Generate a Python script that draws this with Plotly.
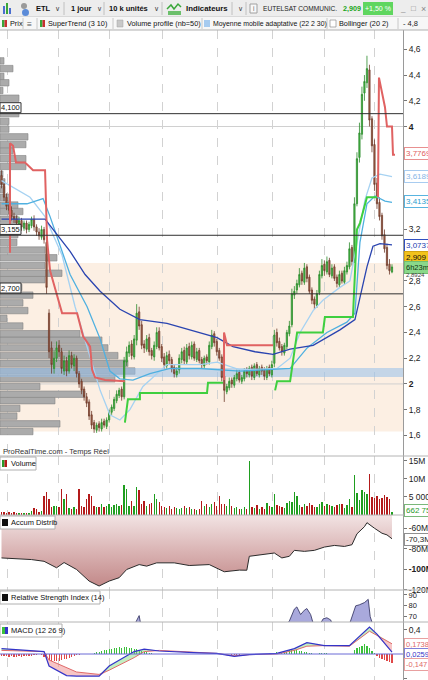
import plotly.graph_objects as go
import numpy as np

# ---------------- DATA ----------------
OPEN = [
3.62, 3.55, 3.45, 3.40, 3.35, 3.30, 3.28, 3.24, 3.27, 3.21,
3.25, 3.20, 3.23, 3.28, 3.22, 3.18, 3.14, 3.20, 3.10, 2.55,
2.28, 2.12, 2.20, 2.30, 2.25, 2.10, 2.18, 2.10, 2.22, 2.14,
2.20, 2.08, 2.02, 1.96, 1.90, 1.86, 1.76, 1.70, 1.64, 1.69,
1.65, 1.71, 1.67, 1.72, 1.78, 1.81, 1.87, 1.91, 1.96, 1.90,
2.17, 2.24, 2.31, 2.21, 2.34, 2.56, 2.46, 2.31, 2.27, 2.36,
2.26, 2.21, 2.29, 2.41, 2.29, 2.21, 2.14, 2.23, 2.19, 2.13,
2.07, 2.11, 2.19, 2.26, 2.17, 2.29, 2.21, 2.31, 2.19, 2.26,
2.19, 2.14, 2.21, 2.17, 2.29, 2.39, 2.33, 2.26, 2.21, 2.06,
1.94, 1.97, 2.03, 1.99, 2.04, 2.09, 2.02, 2.04, 2.11, 2.07,
2.13, 2.05, 2.15, 2.07, 2.13, 2.11, 2.05, 2.13, 2.07, 2.16,
2.40, 2.33, 2.29, 2.24, 2.29, 2.39, 2.46, 2.69, 2.73, 2.77,
2.86, 2.79, 2.91, 2.83, 2.73, 2.66, 2.61, 2.71, 2.84, 2.93,
2.87, 2.96, 2.84, 2.91, 2.83, 2.77, 2.86, 2.79, 2.87, 2.91,
3.06, 2.96, 3.40, 3.76, 3.94, 4.26, 4.34, 4.44, 4.06, 3.86,
3.56, 3.41, 3.31, 3.16, 3.06, 2.93, 2.87]
HIGH = [
3.66, 3.58, 3.48, 3.42, 3.38, 3.33, 3.31, 3.30, 3.29, 3.27,
3.27, 3.26, 3.30, 3.31, 3.24, 3.21, 3.23, 3.22, 3.12, 2.58,
2.33, 2.26, 2.33, 2.34, 2.28, 2.22, 2.21, 2.26, 2.25, 2.23,
2.22, 2.10, 2.04, 1.98, 1.93, 1.88, 1.79, 1.72, 1.70, 1.71,
1.73, 1.73, 1.74, 1.80, 1.84, 1.90, 1.95, 1.97, 1.98, 2.21,
2.29, 2.33, 2.34, 2.38, 2.62, 2.60, 2.49, 2.34, 2.38, 2.39,
2.28, 2.33, 2.44, 2.44, 2.31, 2.24, 2.25, 2.26, 2.21, 2.15,
2.13, 2.23, 2.28, 2.29, 2.31, 2.32, 2.33, 2.33, 2.28, 2.28,
2.21, 2.22, 2.23, 2.33, 2.42, 2.41, 2.35, 2.28, 2.23, 2.08,
2.00, 2.05, 2.05, 2.07, 2.11, 2.11, 2.07, 2.12, 2.13, 2.14,
2.15, 2.16, 2.17, 2.14, 2.15, 2.13, 2.14, 2.15, 2.18, 2.42,
2.43, 2.36, 2.31, 2.32, 2.42, 2.49, 2.74, 2.76, 2.81, 2.90,
2.88, 2.94, 2.93, 2.85, 2.75, 2.68, 2.73, 2.88, 2.97, 2.96,
2.99, 2.98, 2.93, 2.93, 2.85, 2.88, 2.88, 2.91, 2.95, 3.10,
3.08, 3.45, 3.80, 4.03, 4.31, 4.40, 4.55, 4.48, 4.08, 3.90,
3.60, 3.45, 3.33, 3.20, 3.09, 2.97, 2.93]
LOW = [
3.52, 3.42, 3.35, 3.32, 3.27, 3.25, 3.22, 3.22, 3.19, 3.19,
3.17, 3.18, 3.21, 3.19, 3.15, 3.12, 3.12, 3.09, 2.70, 2.20,
2.08, 2.08, 2.17, 2.21, 2.08, 2.07, 2.06, 2.08, 2.12, 2.10,
2.05, 1.97, 1.92, 1.87, 1.82, 1.72, 1.65, 1.62, 1.62, 1.63,
1.63, 1.66, 1.65, 1.70, 1.76, 1.79, 1.85, 1.89, 1.87, 1.88,
2.14, 2.21, 2.19, 2.19, 2.30, 2.42, 2.27, 2.24, 2.25, 2.22,
2.19, 2.18, 2.27, 2.26, 2.17, 2.12, 2.12, 2.15, 2.09, 2.05,
2.05, 2.08, 2.16, 2.15, 2.15, 2.19, 2.19, 2.18, 2.17, 2.16,
2.12, 2.12, 2.15, 2.15, 2.27, 2.29, 2.22, 2.18, 2.02, 1.86,
1.92, 1.95, 1.97, 1.97, 2.02, 2.01, 2.00, 2.02, 2.05, 2.05,
2.03, 2.03, 2.06, 2.05, 2.07, 2.03, 2.03, 2.06, 2.05, 2.13,
2.29, 2.26, 2.22, 2.22, 2.27, 2.37, 2.44, 2.66, 2.70, 2.75,
2.77, 2.77, 2.79, 2.70, 2.62, 2.58, 2.59, 2.69, 2.82, 2.84,
2.85, 2.83, 2.82, 2.80, 2.75, 2.75, 2.78, 2.77, 2.85, 2.89,
2.92, 2.94, 3.38, 3.72, 3.90, 4.20, 4.30, 4.00, 3.80, 3.50,
3.36, 3.27, 3.12, 3.02, 2.89, 2.85, 2.86]
CLOSE = [
3.55, 3.45, 3.38, 3.35, 3.30, 3.28, 3.25, 3.27, 3.22, 3.25,
3.20, 3.24, 3.28, 3.22, 3.18, 3.15, 3.20, 3.12, 2.75, 2.25,
2.15, 2.20, 2.28, 2.25, 2.12, 2.18, 2.10, 2.22, 2.15, 2.20,
2.08, 2.00, 1.95, 1.90, 1.85, 1.75, 1.68, 1.65, 1.68, 1.66,
1.70, 1.68, 1.72, 1.78, 1.82, 1.88, 1.92, 1.95, 1.90, 2.18,
2.25, 2.30, 2.22, 2.35, 2.55, 2.45, 2.30, 2.28, 2.35, 2.25,
2.22, 2.30, 2.40, 2.28, 2.20, 2.15, 2.22, 2.18, 2.12, 2.08,
2.10, 2.20, 2.25, 2.18, 2.28, 2.22, 2.30, 2.20, 2.25, 2.18,
2.15, 2.20, 2.18, 2.30, 2.38, 2.32, 2.25, 2.20, 2.05, 1.95,
1.98, 2.02, 2.00, 2.05, 2.08, 2.03, 2.05, 2.10, 2.08, 2.12,
2.06, 2.14, 2.08, 2.12, 2.10, 2.06, 2.12, 2.08, 2.15, 2.38,
2.32, 2.28, 2.25, 2.30, 2.40, 2.45, 2.70, 2.72, 2.78, 2.85,
2.80, 2.90, 2.82, 2.72, 2.65, 2.62, 2.70, 2.85, 2.92, 2.88,
2.95, 2.85, 2.90, 2.82, 2.78, 2.85, 2.80, 2.88, 2.92, 3.05,
2.95, 3.40, 3.75, 3.95, 4.25, 4.35, 4.45, 4.05, 3.85, 3.55,
3.40, 3.30, 3.15, 3.05, 2.92, 2.88, 2.909]
VOLUME_M = [
0.6, 0.8, 0.5, 0.6, 0.5, 0.6, 0.5, 0.4, 0.5, 0.4,
0.3, 0.5, 1.0, 1.9, 1.6, 0.6, 0.9, 5.1, 6.3, 4.3,
2.0, 2.3, 2.3, 2.2, 7.1, 4.2, 5.8, 1.8, 1.5, 2.0,
1.6, 7.1, 2.3, 2.2, 4.2, 5.6, 5.1, 2.3, 2.0, 2.2,
2.8, 2.0, 2.5, 2.8, 2.2, 2.6, 3.0, 2.4, 2.6, 8.3,
7.1, 2.5, 3.7, 2.3, 7.6, 6.9, 3.0, 3.7, 2.5, 2.8,
3.2, 5.6, 4.2, 3.5, 2.4, 2.0, 1.8, 2.4, 1.6, 2.2,
1.9, 1.5, 1.7, 2.3, 1.8, 2.0, 1.4, 1.6, 1.3, 1.5,
3.7, 2.5, 2.8, 2.2, 3.0, 3.6, 2.4, 5.1, 3.0, 2.8,
2.5, 4.3, 2.4, 1.8, 2.2, 1.6, 1.5, 2.0, 1.4, 15.0,
2.0, 1.8, 2.6, 1.6, 2.0, 1.5, 3.2, 2.4, 2.0, 5.6,
2.6, 2.5, 2.0, 1.8, 3.3, 3.8, 3.5, 6.2, 5.1, 2.6,
2.2, 3.0, 2.5, 3.3, 2.6, 2.0, 2.2, 2.8, 3.5, 2.4,
2.8, 2.6, 2.3, 2.0, 2.6, 2.8, 3.0, 1.8, 2.6, 4.2,
2.2, 11.1, 6.0, 4.0, 6.9, 6.3, 5.6, 11.4, 5.0, 4.5,
5.2, 4.2, 4.6, 5.3, 4.8, 4.2, 0.66]

# volume profile (50 price levels)
VP_PRICE = [1.63, 1.69, 1.75, 1.81, 1.87, 1.92, 1.98, 2.04, 2.10, 2.16,
            2.22, 2.28, 2.34, 2.39, 2.45, 2.51, 2.57, 2.63, 2.69, 2.75,
            2.81, 2.86, 2.92, 2.98, 3.04, 3.10, 3.16, 3.22, 3.28, 3.34,
            3.39, 3.45, 3.51, 3.57, 3.63, 3.69, 3.75, 3.81, 3.86, 3.92,
            3.98, 4.04, 4.10, 4.16, 4.22, 4.28, 4.34, 4.39, 4.45, 4.51]
VP_VOL = [33, 60, 17, 20, 55, 85, 40, 115, 135, 128,
          118, 108, 102, 80, 23, 7, 28, 23, 33, 22,
          45, 62, 45, 57, 45, 17, 18, 21, 18, 23,
          18, 10, 5, 5, 3, 26, 26, 13, 26, 28,
          9, 9, 19, 19, 19, 3, 9, 4, 13, 4]

# SuperTrend (3 10)
ST_RED_X = [3.4, 3.4, 4.6, 5.8, 9.4, 11.4, 12.6, 17.4, 18.2, 19.4, 24.2, 30.2, 31.4, 32.6, 35.4, 36.2, 37.4, 41.4, 49.3,
            None, 88.9, 88.9, 90.1, 108.5, None, 150.4, 150.8, 153.2, 154.0, 156.0, 156.4, 157.2]
ST_RED_Y = [3.02, 3.87, 3.85, 3.72, 3.72, 3.68, 3.66, 3.66, 3.12, 2.88, 2.55, 2.55, 2.45, 2.37, 2.29, 2.11, 2.05, 2.03, 2.02,
            None, 2.03, 2.40, 2.30, 2.30, None, 3.45, 4.38, 4.15, 4.00, 4.00, 3.78, 3.78]
ST_GREEN_X = [49.3, 50.5, 55.3, 55.3, 82.1, 82.5, 88.5, None, 109.3, 110.1, 115.3, 118.1, 128.4, 129.2, 140.4, 142.0, 143.2, 146.0, 150.0]
ST_GREEN_Y = [1.70, 1.88, 1.88, 1.93, 1.93, 2.01, 2.01, None, 1.95, 2.02, 2.02, 2.40, 2.40, 2.52, 2.52, 3.20, 3.25, 3.45, 3.45]

# moving averages
DB_X = [0, 17.4, 22.6, 27.4, 33.4, 39.4, 47.3, 55.3, 66.1, 79.3, 86.1, 92.5, 101.3, 108.5, 115.3, 124.5, 135.2, 141.2, 143.2, 146.0, 148.4, 151.2, 156.0]
DB_Y = [3.28, 3.28, 3.15, 3.03, 2.85, 2.72, 2.58, 2.50, 2.47, 2.40, 2.36, 2.29, 2.25, 2.23, 2.27, 2.30, 2.42, 2.50, 2.68, 2.91, 3.07, 3.09, 3.08]
LB1_X = [0, 11.4, 17.4, 24.2, 29.4, 35.4, 39.4, 43.3, 47.3, 51.3, 56.5, 66.1, 79.3, 86.1, 95.3, 110.1, 115.3, 119.3, 124.5, 128.4, 135.2, 139.2, 142.0, 145.2, 148.0, 151.2, 156.0]
LB1_Y = [3.58, 3.45, 3.30, 3.00, 2.60, 2.20, 1.95, 1.76, 1.72, 1.80, 1.98, 2.15, 2.15, 2.17, 2.11, 2.12, 2.20, 2.40, 2.57, 2.65, 2.75, 2.80, 3.10, 3.43, 3.60, 3.63, 3.61]
LB2_X = [0, 10.2, 16.6, 19.4, 22.6, 27.4, 34.2, 39.4, 43.3, 47.3, 52.5, 59.3, 67.3, 79.3, 95.3, 109.3, 115.3, 122.1, 130.0, 138.0, 141.2, 143.2, 146.0, 149.2, 153.2, 156.0]
LB2_Y = [3.40, 3.40, 3.44, 3.30, 3.12, 2.85, 2.60, 2.35, 2.10, 2.04, 2.03, 2.08, 2.12, 2.12, 2.10, 2.11, 2.12, 2.28, 2.40, 2.48, 2.55, 3.10, 3.40, 3.46, 3.42, 3.41]

# horizontal levels
LEVELS = [4.100, 3.155, 2.700]
LEVEL_TXT = ["4,100", "3,155", "2,700"]
VALUE_AREA = [1.63, 2.94]
POC = [2.05, 2.125]

# Accumulation / Distribution (millions)
AD_X = [0, 12, 17, 22, 25, 30, 35, 39, 43, 47, 50, 55, 58, 62, 69, 75, 83, 89, 95, 98, 99, 103, 109, 112, 115, 117, 121, 125, 129, 133, 137, 140, 142, 145, 146, 149, 152, 154, 156]
AD_V = [-89, -90.6, -92.3, -98.6, -93.5, -100.3, -111.6, -116.4, -111.6, -108.3, -100.3, -95.5, -97, -93.8, -93.8, -96.4, -95.5, -102.5, -100.9, -101, -87.4, -86.4, -84.2, -89, -87.4, -81.6, -82.6, -81.6, -78.4, -76.8, -77.8, -76.1, -65.5, -58.5, -54.6, -60, -64.9, -66.5, -70.3]

# RSI (14)
RSI_X = [0, 50, 53, 55, 56, 60, 80, 100, 112, 115, 117, 118, 119.5, 121, 122, 123.5, 125, 127, 128.5, 130, 131.5, 133, 139, 140.5, 141.5, 143, 145, 146.5, 147.3, 149, 156]
RSI_Y = [45, 55, 62, 71, 58, 52, 50, 50, 58, 66, 77, 79, 72, 76, 77.5, 72, 60, 62, 68, 69, 67, 58, 63, 74, 80, 81, 83, 86, 70, 58, 45]

# MACD (12 26 9)
MACD_X = [0, 17, 19, 26, 30, 39, 43, 53, 57, 63, 79, 86, 93, 99, 110, 117, 122, 129, 139, 147, 150, 156]
MACD_V = [0.09, 0.04, -0.20, -0.36, -0.37, -0.37, -0.20, 0.04, 0.08, 0.05, 0.02, 0.01, -0.04, -0.01, 0.01, 0.09, 0.19, 0.14, 0.14, 0.45, 0.33, 0.03]
SIGNAL_V = [0.06, 0.04, -0.10, -0.23, -0.30, -0.34, -0.27, -0.06, 0.04, 0.06, 0.02, 0.01, -0.03, -0.01, 0.00, 0.06, 0.13, 0.14, 0.13, 0.38, 0.31, 0.17]
HIST = [
-0.03, -0.04, -0.04, -0.05, -0.04, -0.05, -0.05, -0.04, -0.05, -0.04,
-0.04, -0.03, -0.03, -0.02, -0.01, 0.00, -0.02, -0.05, -0.08, -0.10,
-0.12, -0.12, -0.11, -0.11, -0.10, -0.09, -0.08, -0.07, -0.05, -0.03,
-0.02, -0.01, 0.00, 0.00, 0.00, 0.00, 0.00, 0.02, 0.03, 0.04,
0.05, 0.06, 0.07, 0.08, 0.09, 0.10, 0.10, 0.11, 0.10, 0.11,
0.11, 0.10, 0.10, 0.09, 0.08, 0.07, 0.05, 0.04, 0.03, 0.02,
0.01, 0.00, 0.00, 0.00, 0.00, 0.00, 0.00, 0.00, 0.00, 0.00,
0.00, 0.00, 0.00, 0.00, 0.00, 0.00, 0.00, 0.00, 0.00, 0.00,
0.00, 0.00, 0.00, 0.00, 0.00, 0.00, 0.00, 0.00, 0.00, 0.00,
0.00, 0.00, -0.02, -0.02, -0.02, -0.01, 0.00, 0.00, 0.00, 0.00,
0.00, 0.00, 0.00, 0.00, 0.00, 0.00, 0.00, 0.01, 0.01, 0.02,
0.03, 0.02, 0.02, 0.03, 0.04, 0.06, 0.07, 0.07, 0.06, 0.05,
0.05, 0.04, 0.03, 0.02, 0.01, 0.00, 0.00, 0.01, 0.01, 0.02,
0.01, 0.00, 0.00, 0.00, 0.00, 0.00, 0.00, 0.00, 0.00, 0.00,
0.00, 0.06, 0.10, 0.12, 0.14, 0.16, 0.14, 0.10, 0.05, 0.01,
-0.04, -0.06, -0.08, -0.10, -0.12, -0.14, -0.15]

MONTH_STARTS = [2.2, 22.6, 43.3, 64.5, 86.1, 108.1, 129.2, 149.2]

# ---------------- GEOMETRY / STYLE ----------------
FONT = "Liberation Sans, Arial, sans-serif"
W, HT, PW, TOP = 428, 680, 403, 30
PH = HT - TOP
X0, X1 = -0.6, 160.4
VP_SCALE = (X1 - X0) / PW   # volume-profile units -> candle-index units


def fx(x):
    return x / PW


def fy(y):
    return (HT - y) / PH


D_PRICE = [fy(456), 1.0]
D_VOL = [fy(515), fy(456)]
D_AD = [fy(590), fy(515)]
D_RSI = [fy(622), fy(590)]
D_MACD = [0.0, fy(622)]

n = len(CLOSE)
idx = list(range(n))
GREEN, RED = '#1f9e1f', '#b31a1a'
vcol = [GREEN if c >= o else RED for o, c in zip(OPEN, CLOSE)]

fig = go.Figure()

# volume profile
fig.add_trace(go.Bar(orientation='h', y=VP_PRICE, x=[v * VP_SCALE for v in VP_VOL], base=X0, width=0.05,
                     marker=dict(color='#ababab', line=dict(color='#858585', width=0.6)),
                     xaxis='x', yaxis='y', hoverinfo='skip', showlegend=False))
# POC band
fig.add_trace(go.Bar(orientation='h', y=[(POC[0] + POC[1]) / 2], x=[X1 - X0], base=X0, width=POC[1] - POC[0],
                     marker=dict(color='rgba(150,192,235,0.55)', line=dict(width=0)),
                     xaxis='x', yaxis='y', hoverinfo='skip', showlegend=False))
# candles
fig.add_trace(go.Candlestick(x=idx, open=OPEN, high=HIGH, low=LOW, close=CLOSE, xaxis='x', yaxis='y',
                             increasing=dict(line=dict(color='#2b8a2b', width=0.8), fillcolor='#4cbc4c'),
                             decreasing=dict(line=dict(color='#6e3b2b', width=0.8), fillcolor='#a9654c'),
                             whiskerwidth=0, hoverinfo='skip', showlegend=False))
# MAs
for xs, ys, col, w in [(LB1_X, LB1_Y, '#a6d2f2', 1.3), (LB2_X, LB2_Y, '#4fb0e0', 1.3), (DB_X, DB_Y, '#2a44b0', 1.3)]:
    fig.add_trace(go.Scatter(x=xs, y=ys, mode='lines', line=dict(color=col, width=w), xaxis='x', yaxis='y',
                             hoverinfo='skip', showlegend=False))
# SuperTrend
fig.add_trace(go.Scatter(x=ST_RED_X, y=ST_RED_Y, mode='lines', line=dict(color='#e06262', width=2),
                         xaxis='x', yaxis='y', hoverinfo='skip', showlegend=False, connectgaps=False))
fig.add_trace(go.Scatter(x=ST_GREEN_X, y=ST_GREEN_Y, mode='lines', line=dict(color='#3fcf3f', width=2),
                         xaxis='x', yaxis='y', hoverinfo='skip', showlegend=False, connectgaps=False))

# volume
fig.add_trace(go.Bar(x=idx, y=VOLUME_M, marker=dict(color=vcol, line=dict(width=0)), width=0.55,
                     xaxis='x', yaxis='y3', hoverinfo='skip', showlegend=False))

# accumulation / distribution
AD_TOP = -47.1
fig.add_trace(go.Scatter(x=AD_X + AD_X[::-1], y=AD_V + [AD_TOP] * len(AD_X), mode='lines', fill='toself',
                         line=dict(width=0), fillgradient=dict(type='vertical', start=-117, stop=-47,
                         colorscale=[[0, '#c28888'], [0.5, '#dab4b4'], [1, '#f2e4e4']]),
                         xaxis='x', yaxis='y4', hoverinfo='skip', showlegend=False))
fig.add_trace(go.Scatter(x=AD_X, y=AD_V, mode='lines', line=dict(color='#2a2a2a', width=1),
                         xaxis='x', yaxis='y4', hoverinfo='skip', showlegend=False))

# RSI
fig.add_trace(go.Scatter(x=RSI_X, y=RSI_Y, mode='lines', fill='tozeroy', fillcolor='#a9a9dc',
                         line=dict(color='#2c2c5a', width=0.8), xaxis='x', yaxis='y5',
                         hoverinfo='skip', showlegend=False))

# MACD
hcol = ['#3cc03c' if h >= 0 else '#e04848' for h in HIST]
fig.add_trace(go.Bar(x=idx, y=HIST, marker=dict(color=hcol, line=dict(width=0)), width=0.45,
                     xaxis='x', yaxis='y6', hoverinfo='skip', showlegend=False))
mv, sv = np.array(MACD_V), np.array(SIGNAL_V)
for other, fc in [(np.maximum(mv, sv), 'rgba(120,220,120,0.45)'), (np.minimum(mv, sv), 'rgba(240,140,140,0.5)')]:
    fig.add_trace(go.Scatter(x=MACD_X, y=SIGNAL_V, mode='lines', line=dict(width=0), xaxis='x', yaxis='y6',
                             hoverinfo='skip', showlegend=False))
    fig.add_trace(go.Scatter(x=MACD_X, y=other, mode='lines', line=dict(width=0), fill='tonexty', fillcolor=fc,
                             xaxis='x', yaxis='y6', hoverinfo='skip', showlegend=False))
fig.add_trace(go.Scatter(x=MACD_X, y=SIGNAL_V, mode='lines', line=dict(color='#e06a6a', width=1),
                         xaxis='x', yaxis='y6', hoverinfo='skip', showlegend=False))
fig.add_trace(go.Scatter(x=MACD_X, y=MACD_V, mode='lines', line=dict(color='#3434c8', width=1.2),
                         xaxis='x', yaxis='y6', hoverinfo='skip', showlegend=False))


# ---------------- AXES ----------------
def yax(domain, rng, tv, tt, size=8.5):
    return dict(domain=domain, range=rng, side='right', anchor='x', tickvals=tv, ticktext=tt,
                showgrid=False, zeroline=False, showline=True, linecolor='#9a9a9a', linewidth=1,
                ticks='outside', ticklen=3, tickcolor='#777', automargin=False,
                tickfont=dict(family=FONT, size=size, color='#222'), fixedrange=True)


layout_axes = dict(
    xaxis=dict(domain=[0, 1], range=[X0, X1], anchor='y', tickvals=MONTH_STARTS, showticklabels=False, ticks='',
               showgrid=True, gridcolor='#d2d2d2', griddash='dash', gridwidth=1, zeroline=False, showline=False,
               rangeslider=dict(visible=False), fixedrange=True, automargin=False),
    yaxis=yax(D_PRICE, [1.44, 4.75], [1.6, 1.8, 2.0, 2.2, 2.4, 2.6, 2.8, 3.2, 4.0, 4.2, 4.4, 4.6],
              ['1,6', '1,8', '<b>2</b>', '2,2', '2,4', '2,6', '2,8', '3,2', '<b>4</b>', '4,2', '4,4', '4,6']),
    yaxis3=yax(D_VOL, [-0.14, 16.31], [5, 10, 15], ['5 000k', '10M', '15M']),
    yaxis4=yax(D_AD, [-120.3, -47.1], [-60, -80, -100, -120], ['-60M', '-80M', '<b>-100M</b>', '-120M']),
    yaxis5=yax(D_RSI, [65.1, 94.6], [70, 80, 90], ['70', '80', '90'], 7.5),
    yaxis6=yax(D_MACD, [-0.433, 0.533], [0.4, -0.4], ['0,4', '-0,4']),
)

# ---------------- SHAPES / ANNOTATIONS ----------------
shapes, annots = [], []


def rect(x0, y0, x1, y1, fill=None, line=None, lw=1):
    shapes.append(dict(type='rect', xref='paper', yref='paper', x0=fx(x0), x1=fx(x1), y0=fy(y1), y1=fy(y0),
                       fillcolor=fill or 'rgba(0,0,0,0)',
                       line=dict(color=line or 'rgba(0,0,0,0)', width=lw if line else 0), layer='above'))


def seg(x0, y0, x1, y1, color, lw=1):
    shapes.append(dict(type='line', xref='paper', yref='paper', x0=fx(x0), x1=fx(x1), y0=fy(y0), y1=fy(y1),
                       line=dict(color=color, width=lw), layer='above'))


def text(x, y, s, size=8, color='#111', anchor='left', bold=False, bg=None, border=None, pad=1):
    a = dict(xref='paper', yref='paper', x=fx(x), y=fy(y), text=('<b>%s</b>' % s) if bold else s,
             showarrow=False, xanchor=anchor, yanchor='middle', font=dict(family=FONT, size=size, color=color))
    if bg:
        a['bgcolor'] = bg
    if border:
        a['bordercolor'] = border
        a['borderwidth'] = 1
    a['borderpad'] = pad
    annots.append(a)


# price-panel background zones
shapes.append(dict(type='rect', xref='paper', yref='y', x0=0, x1=1, y0=VALUE_AREA[0], y1=VALUE_AREA[1],
                   fillcolor='#fcefe3', line=dict(width=0), layer='below'))
for g in [2.0, 4.0]:
    shapes.append(dict(type='line', xref='paper', yref='y', x0=0, x1=1, y0=g, y1=g,
                       line=dict(color='#d0d0d0', width=1), layer='below'))
for lv in LEVELS:
    shapes.append(dict(type='line', xref='paper', yref='y', x0=0, x1=1, y0=lv, y1=lv,
                       line=dict(color='#303030', width=1), layer='above'))
shapes.append(dict(type='line', xref='paper', yref='y6', x0=0, x1=1, y0=0, y1=0,
                   line=dict(color='#6b6bd6', width=1), layer='above'))

# panel separators
for yy in [456, 515, 590, 622]:
    seg(0, yy, 428, yy, '#b4b4b4', 1)

# toolbar row 1
rect(0, 0, 428, 17, fill='#ededed')
seg(0, 17, 428, 17, '#c4c4c4')
rect(3, 6, 5, 14, fill='#4a6ed0'); rect(6, 3, 8, 14, fill='#3aa63a'); rect(9, 8, 11, 14, fill='#4a6ed0')
shapes.append(dict(type='circle', xref='paper', yref='paper', x0=fx(21), x1=fx(27), y0=fy(9), y1=fy(3),
                   fillcolor='#9a9a9a', line=dict(width=0), layer='above'))
shapes.append(dict(type='circle', xref='paper', yref='paper', x0=fx(22), x1=fx(29), y0=fy(16), y1=fy(9),
                   fillcolor='#5b8bd8', line=dict(width=0), layer='above'))
text(34, 8.5, 'ETL', 7.5, '#111', bold=True)
text(53, 8.5, '∨', 6.5, '#444')
seg(64, 2, 64, 15, '#c0c0c0')
text(69, 8.5, '1 jour', 7.5, '#111', bold=True)
text(95, 8.5, '∨', 6.5, '#444')
seg(104, 2, 104, 15, '#c0c0c0')
text(107, 8.5, '10 k unités', 7.5, '#111', bold=True)
text(152, 8.5, '∨', 6.5, '#444')
seg(162, 2, 162, 15, '#c0c0c0')
shapes.append(dict(type='path', xref='paper', yref='paper',
                   path='M %f %f L %f %f L %f %f L %f %f L %f %f' % (fx(167), fy(9), fx(171), fy(5), fx(174), fy(9),
                                                                     fx(178), fy(4), fx(181), fy(7)),
                   line=dict(color='#3aa63a', width=1.5), layer='above'))
rect(168, 11, 181, 15, fill='#6cc06c')
text(184, 8.5, 'Indicateurs', 7.8, '#111', bold=True)
seg(232, 2, 232, 15, '#c0c0c0')
text(236, 8.5, '∨', 6.5, '#444')
seg(246, 2, 246, 15, '#c0c0c0')
rect(250, 4, 257, 13, fill='#f8f8f8', line='#a0a0a0')
text(253.5, 8.5, 'i', 6.5, '#666', anchor='center')
text(261, 8.5, 'EUTELSAT COMMUNIC.', 6.6, '#222')
text(341, 8.5, '2,909', 7.2, '#1aa51a', bold=True)
rect(363, 2, 393, 15, fill='#5fd65f')
text(378, 8.5, '+1,50 %', 7, '#ffffff', anchor='center')
text(398, 8.5, '_', 8, '#888')
text(409, 8.5, '□', 8, '#888')
text(419, 8.5, '×', 9, '#888')

# toolbar row 2
rect(0, 17, 428, 30, fill='#f7f7f7')
seg(0, 30, 428, 30, '#b0b0b0')
rect(2, 20, 4.5, 27, fill='#3aa63a'); rect(4.5, 20, 7, 27, fill='#c83030')
text(8, 23.8, 'Prix', 7.3, '#111')
seg(23, 18, 23, 29, '#c8c8c8')
text(25, 23.8, '≡', 8.5, '#555')
seg(37, 18, 37, 29, '#c8c8c8')
rect(40, 20, 42.5, 27, fill='#3aa63a'); rect(42.5, 20, 45, 27, fill='#c83030')
text(46, 23.8, 'SuperTrend (3 10)', 7.3, '#111')
seg(113, 18, 113, 29, '#c8c8c8')
rect(117, 20, 123, 27, fill='#c8c8c8', line='#a0a0a0', lw=0.5)
text(125, 23.8, 'Volume profile (nb=50)', 7.3, '#111')
seg(202, 18, 202, 29, '#c8c8c8')
rect(204, 20, 210, 27, fill='#a6cbf0')
text(211, 23.8, 'Moyenne mobile adaptative (22 2 30)', 6.9, '#111')
seg(327, 18, 327, 29, '#c8c8c8')
rect(330, 20, 336, 27, fill='#ffffff', line='#909090', lw=0.7)
text(337, 23.8, 'Bollinger (20 2)', 7.3, '#111')
seg(398, 18, 398, 29, '#c8c8c8')
text(401, 23.8, '- 4,8', 7.5, '#222')

# level labels (left)
for lv, t in zip(LEVELS, LEVEL_TXT):
    yp = 435.7 - (lv - 1.6) * 128.8
    rect(0, yp - 11, 21, yp - 1, fill='#ffffff', line='#333333')
    text(10.5, yp - 6, t, 7.5, '#111', anchor='center')

# right-side value labels
text(404, 153, '3,7769', 8, '#e06060', bg='#ffffff', border='#e89090')
text(404, 176, '3,6189', 8, '#86b6e6', bg='#ffffff', border='#a8ccf0')
text(404, 201, '3,4135', 8, '#2aa0d0', bg='#ffffff', border='#58b4e0')
text(404, 245, '3,0737', 8, '#2040b0', bg='#ffffff', border='#3050c0')
text(404, 257, '2,909', 8, '#111', bg='#f2c21c', border='#d4a410')
text(404, 267.5, '6h23m', 7.5, '#113311', bg='#8ad88a', border='#70c070')
text(404, 274.5, '2,8924', 6, '#444')
text(404, 510, '662 75', 8, '#2a9a2a', bg='#ffffff', border='#7ab87a')
text(404, 539, '-70,3M', 8, '#222', bg='#ffffff', border='#909090')
text(404, 644.5, '0,1738', 7.5, '#e06a6a', bg='#ffffff', border='#e8a0a0')
text(404, 654.5, '0,0259', 7.5, '#3434c8', bg='#ffffff', border='#8080d8')
text(404, 664.5, '-0,147', 7.5, '#e06a6a', bg='#ffffff', border='#e8a0a0')

# panel captions
text(1, 451.5, 'ProRealTime.com - Temps Réel', 7.5, '#333')
rect(0, 457, 36, 470, fill='#ffffff', line='#b0b0b0')
rect(2, 460, 4.5, 467, fill='#2a9a2a'); rect(4.5, 460, 7, 467, fill='#b31a1a')
text(9, 463.5, 'Volume', 7.5, '#111')
rect(0, 516, 55, 529, fill='#ffffff', line='#b0b0b0')
rect(2, 519, 8, 526, fill='#111111')
text(9, 522.5, 'Accum Distrib', 7.5, '#111')
rect(0, 591, 100, 604, fill='#ffffff', line='#b0b0b0')
rect(2, 594, 8, 601, fill='#111111')
text(9, 597.5, 'Relative Strength Index (14)', 7.5, '#111')
rect(0, 624, 62, 637, fill='#ffffff', line='#b0b0b0')
rect(2, 627, 5, 634, fill='#3cc03c'); rect(5, 627, 8, 634, fill='#3434c8')
text(9, 630.5, 'MACD (12 26 9)', 7.5, '#111')

fig.update_layout(
    template='none',
    width=W, height=HT, margin=dict(l=0, r=W - PW, t=TOP, b=0, pad=0, autoexpand=False),
    paper_bgcolor='#ffffff', plot_bgcolor='#ffffff', barmode='overlay', bargap=0,
    showlegend=False, shapes=shapes, annotations=annots, hovermode=False,
    font=dict(family=FONT, size=9, color='#222'),
    **layout_axes)

fig.write_html("out.html", config=dict(displayModeBar=False, staticPlot=True),
               post_script="document.body.style.margin='0';document.body.style.padding='0';"
                           "document.documentElement.style.overflow='hidden';")
